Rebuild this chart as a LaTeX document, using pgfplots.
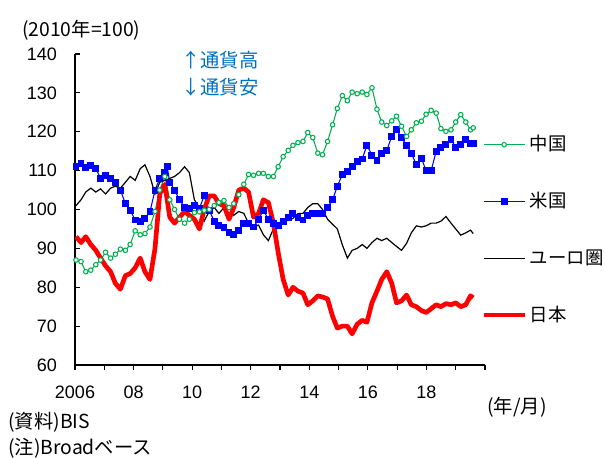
\documentclass[border=0pt]{standalone}
\usepackage{fontspec}
\setmainfont{Liberation Sans}
\newfontfamily\cjk{Noto Sans CJK JP}
\usepackage{pgfplots}
\pgfplotsset{compat=1.18}
\definecolor{cgreen}{RGB}{0,176,80}
\definecolor{cblue}{RGB}{0,0,255}
\definecolor{cred}{RGB}{255,0,0}
\definecolor{ctext}{RGB}{0,112,192}
\newcommand{\fs}{\fontsize{13.5}{16}\selectfont}
\newcommand{\fj}{\cjk\fontsize{14.5}{17}\selectfont}
\newcommand{\fl}{\cjk\fontsize{13.8}{16}\selectfont}
\begin{document}
\begin{tikzpicture}[x=0.75pt,y=0.75pt]
\path[use as bounding box] (0,0) rectangle (605,457);
\begin{axis}[
  at={(56.25pt,69pt)}, anchor=south west,
  scale only axis, width=307.5pt, height=233.25pt,
  xmin=2006, xmax=2020, ymin=60, ymax=140,
  axis x line*=bottom, axis y line*=left,
  axis line style={line width=1.1pt, -},
  xtick={2006,...,2020},
  xticklabels={2006,,08,,10,,12,,14,,16,,18,,},
  ytick={60,70,...,140},
  tick align=inside, major tick length=3.5pt,
  tick style={black, line width=0.8pt},
  x tick style={yshift=-3.5pt},
  ticklabel style={font=\fs},
  /pgf/number format/assume math mode=true,
  yticklabel style={xshift=-10pt},
  xticklabel style={yshift=-12.5pt},
  x filter/.expression={2006.034+1.0106*(x-2006)},
  legend style={at={(0.99,0.75)}, anchor=north west, draw=none, fill=none,
    font=\fl, row sep=23.6pt, inner sep=0pt, cells={anchor=west},
    nodes={text height=12pt, text depth=3pt}},
  legend cell align=left,
  legend image code/.code={\draw[mark repeat=2,mark phase=2,#1] plot coordinates {(0pt,0pt) (15.5pt,0pt) (31pt,0pt)};},
]
\addlegendimage{cgreen, line width=0.8pt, mark=*, mark size=1.7pt, mark options={fill=white, draw=cgreen, line width=0.8pt}}
\addlegendentry{中国}
\addlegendimage{cblue, line width=0.8pt, mark=square*, mark size=2.2pt, mark options={fill=cblue}}
\addlegendentry{米国}
\addlegendimage{black, line width=0.9pt}
\addlegendentry{ユーロ圏}
\addlegendimage{cred, line width=3.5pt}
\addlegendentry{日本}

% 米国
\addplot[forget plot, cblue, line width=0.8pt, mark=square*, mark size=2.2pt, mark options={fill=cblue}] coordinates {
(2006.00,111.0) (2006.17,111.8) (2006.33,110.8) (2006.50,111.4) (2006.67,110.6) (2006.83,108.0)
(2007.00,108.8) (2007.17,108.0) (2007.33,107.0) (2007.50,105.0) (2007.67,101.5) (2007.83,99.8)
(2008.00,97.3) (2008.17,97.0) (2008.33,97.6) (2008.50,99.4) (2008.67,105.0) (2008.83,108.0)
(2009.00,109.5) (2009.08,111.0) (2009.17,107.0) (2009.33,105.0) (2009.50,102.5) (2009.67,100.5) (2009.83,100.3)
(2010.00,101.1) (2010.17,100.3) (2010.33,103.5) (2010.50,99.8) (2010.67,97.0) (2010.83,96.0)
(2011.00,95.3) (2011.17,94.0) (2011.33,93.5) (2011.50,94.5) (2011.67,96.5) (2011.83,96.5)
(2012.00,95.5) (2012.17,97.5) (2012.33,99.8) (2012.50,97.5) (2012.67,96.5) (2012.83,96.0)
(2013.00,97.0) (2013.17,98.0) (2013.33,99.0) (2013.50,98.0) (2013.67,97.3) (2013.83,98.5)
(2014.00,99.0) (2014.17,99.0) (2014.33,99.0) (2014.50,100.5) (2014.67,102.5) (2014.83,106.0)
(2015.00,109.0) (2015.17,109.8) (2015.33,111.0) (2015.50,112.3) (2015.67,113.0) (2015.83,116.5)
(2016.00,114.0) (2016.17,112.5) (2016.33,114.5) (2016.50,115.2) (2016.67,118.8) (2016.83,120.5)
(2017.00,118.5) (2017.17,116.5) (2017.33,114.5) (2017.50,111.5) (2017.67,113.2) (2017.83,110.0)
(2018.00,110.0) (2018.17,115.0) (2018.33,116.0) (2018.50,116.8) (2018.67,118.0) (2018.83,116.0)
(2019.00,116.8) (2019.17,118.0) (2019.33,117.0) (2019.42,117.0)
};
% 中国
\addplot[forget plot, cgreen, line width=0.8pt, mark=*, mark size=1.7pt, mark options={fill=white, draw=cgreen, line width=0.8pt}] coordinates {
(2006.00,87.0) (2006.17,86.6) (2006.33,84.0) (2006.50,84.4) (2006.67,85.8) (2006.83,87.0)
(2007.00,89.0) (2007.17,87.5) (2007.33,88.5) (2007.50,89.8) (2007.67,89.5) (2007.83,91.0)
(2008.00,94.5) (2008.17,93.5) (2008.33,93.8) (2008.50,95.5) (2008.67,99.5) (2008.83,105.0)
(2009.00,108.5) (2009.17,102.5) (2009.33,100.0) (2009.50,97.5) (2009.67,96.5) (2009.83,97.5)
(2010.00,99.2) (2010.17,99.4) (2010.33,99.8) (2010.50,100.0) (2010.67,101.0) (2010.83,101.8)
(2011.00,102.3) (2011.17,100.5) (2011.33,101.5) (2011.50,103.8) (2011.67,106.5) (2011.83,109.0)
(2012.00,108.8) (2012.17,109.3) (2012.33,109.3) (2012.50,108.5) (2012.67,108.5) (2012.83,111.0)
(2013.00,113.6) (2013.17,115.2) (2013.33,116.5) (2013.50,117.2) (2013.67,117.5) (2013.83,119.8)
(2014.00,118.5) (2014.17,114.5) (2014.33,114.1) (2014.50,117.5) (2014.67,121.8) (2014.83,126.0)
(2015.00,129.3) (2015.17,128.0) (2015.33,130.2) (2015.50,129.8) (2015.67,130.2) (2015.83,129.6)
(2016.00,131.3) (2016.17,125.8) (2016.33,122.5) (2016.50,121.6) (2016.67,122.8) (2016.83,124.0)
(2017.00,121.4) (2017.17,118.8) (2017.33,120.5) (2017.50,122.3) (2017.67,122.7) (2017.83,124.5)
(2018.00,125.5) (2018.17,124.8) (2018.33,120.8) (2018.50,120.1) (2018.67,120.5) (2018.83,122.5)
(2019.00,124.4) (2019.17,122.5) (2019.33,120.5) (2019.42,121.0)
};
% ユーロ圏
\addplot[forget plot, black, line width=0.9pt] coordinates {
(2006.00,101.0) (2006.17,102.5) (2006.33,104.5) (2006.50,105.5) (2006.67,104.5) (2006.83,105.3)
(2007.00,104.0) (2007.17,105.5) (2007.33,106.0) (2007.50,105.5) (2007.67,107.0) (2007.83,108.5)
(2008.00,107.5) (2008.17,110.5) (2008.33,111.5) (2008.50,108.5) (2008.67,104.0) (2008.83,107.0)
(2009.00,107.5) (2009.17,108.0) (2009.33,108.5) (2009.50,109.5) (2009.67,111.0) (2009.83,109.5)
(2010.00,102.5) (2010.17,100.5) (2010.33,97.0) (2010.50,99.5) (2010.67,100.5) (2010.83,99.0)
(2011.00,100.5) (2011.17,101.0) (2011.33,98.5) (2011.50,99.5) (2011.67,99.0) (2011.83,96.5)
(2012.00,95.5) (2012.17,96.0) (2012.33,93.5) (2012.50,92.0) (2012.67,95.0) (2012.83,96.5)
(2013.00,97.0) (2013.17,97.2) (2013.33,97.7) (2013.50,99.0) (2013.67,99.0) (2013.83,100.5)
(2014.00,101.5) (2014.17,101.5) (2014.33,100.0) (2014.50,97.5) (2014.67,96.2) (2014.83,95.0)
(2015.00,90.9) (2015.17,87.5) (2015.33,89.5) (2015.50,90.0) (2015.67,91.0) (2015.83,90.0)
(2016.00,91.5) (2016.17,92.6) (2016.33,92.0) (2016.50,92.6) (2016.67,91.5) (2016.83,90.5)
(2017.00,89.5) (2017.17,91.3) (2017.33,94.0) (2017.50,95.8) (2017.67,95.5) (2017.83,95.8)
(2018.00,96.5) (2018.17,96.5) (2018.33,97.0) (2018.50,98.2) (2018.67,96.5) (2018.83,95.0)
(2019.00,93.4) (2019.17,94.0) (2019.33,94.7) (2019.42,93.8)
};
% 日本
\addplot[forget plot, cred, line width=3.5pt, line join=round] coordinates {
(2006.00,93.0) (2006.17,91.5) (2006.33,93.0) (2006.50,91.0) (2006.67,89.5) (2006.83,87.5)
(2007.00,85.5) (2007.17,84.0) (2007.33,81.0) (2007.50,79.5) (2007.67,83.0) (2007.83,83.5)
(2008.00,85.0) (2008.17,87.5) (2008.33,84.0) (2008.50,82.0) (2008.67,90.0) (2008.83,104.0)
(2009.00,106.5) (2009.17,98.0) (2009.33,96.5) (2009.50,98.0) (2009.67,99.5) (2009.83,98.5)
(2010.00,97.5) (2010.17,95.0) (2010.33,100.0) (2010.50,103.5) (2010.67,103.5) (2010.83,101.5)
(2011.00,101.0) (2011.17,97.5) (2011.33,100.5) (2011.50,105.0) (2011.67,105.5) (2011.83,104.5)
(2012.00,98.0) (2012.17,99.0) (2012.33,102.5) (2012.50,101.8) (2012.67,96.5) (2012.83,89.0)
(2013.00,82.0) (2013.17,78.0) (2013.33,80.0) (2013.50,79.0) (2013.67,78.5) (2013.83,75.5)
(2014.00,76.5) (2014.17,77.8) (2014.33,77.5) (2014.50,77.0) (2014.67,72.5) (2014.83,69.5)
(2015.00,70.0) (2015.17,70.0) (2015.33,68.0) (2015.50,70.5) (2015.67,71.5) (2015.83,71.0)
(2016.00,76.0) (2016.17,79.0) (2016.33,82.0) (2016.50,84.0) (2016.67,81.0) (2016.83,76.0)
(2017.00,76.5) (2017.17,78.0) (2017.33,75.5) (2017.50,75.0) (2017.67,74.0) (2017.83,73.5)
(2018.00,74.5) (2018.17,75.5) (2018.33,75.0) (2018.50,75.8) (2018.67,75.5) (2018.83,76.0)
(2019.00,75.0) (2019.17,75.5) (2019.33,77.8) (2019.42,77.3)
};
\end{axis}
\node[anchor=west, font=\fj, inner sep=0pt] at (22,427) {(2010年=100)};
\node[anchor=west, font=\fj, text=ctext, inner sep=0pt] at (181,397) {↑通貨高};
\node[anchor=west, font=\fj, text=ctext, inner sep=0pt] at (181,370) {↓通貨安};
\node[font=\fj, inner sep=0pt] at (517,50) {(年/月)};
\node[anchor=west, font=\fj, inner sep=0pt] at (8,35) {(資料)BIS};
\node[anchor=west, font=\fj, inner sep=0pt] at (8,9) {(注)Broadベース};
\end{tikzpicture}
\end{document}
